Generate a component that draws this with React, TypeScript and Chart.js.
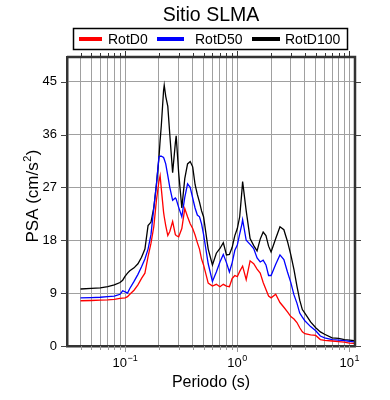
import React, { useEffect, useRef } from 'react';
import { Chart, registerables } from 'chart.js';

Chart.register(...registerables);

const FONT = '"Liberation Sans", Arial, Helvetica, sans-serif';

const chartTitle = 'Sitio SLMA';
const xTitle = 'Periodo (s)';
const yTitleMain = 'PSA (cm/s';
const yTitleSup = '2';
const yTitleEnd = ')';
const seriesNames = ['RotD0', 'RotD50', 'RotD100'];
const seriesColors = ['#ff0000', '#0000ff', '#000000'];

const periods = [
  0.04, 0.05, 0.06, 0.07, 0.08, 0.09, 0.095, 0.1, 0.105, 0.11,
  0.12, 0.13, 0.14, 0.15, 0.16, 0.17, 0.18, 0.19, 0.2, 0.205,
  0.21, 0.22, 0.223, 0.23, 0.24, 0.25, 0.265, 0.28, 0.285, 0.3,
  0.32, 0.34, 0.36, 0.38, 0.4, 0.42, 0.44, 0.46, 0.48, 0.5,
  0.55, 0.6, 0.65, 0.7, 0.75, 0.8, 0.85, 0.9, 0.95, 1.0,
  1.05, 1.1, 1.115, 1.2, 1.3, 1.4, 1.5, 1.6, 1.7, 1.8,
  1.9, 2.0, 2.2, 2.4, 2.6, 2.8, 3.0, 3.2, 3.4, 3.6,
  3.8, 4.0, 4.5, 5.0, 5.5, 6, 7, 8, 9, 10, 11,
];

const rotD0 = [
  7.7, 7.75, 7.8, 7.85, 7.95, 8.1, 8.15, 8.2, 8.4, 8.8,
  9.5, 10.4, 11.5, 12.4, 15.2, 17.5, 20.3, 24.8, 28.0, 29.0,
  26.8, 22.8, 22.0, 20.5, 18.8, 19.5, 21.2, 19.0, 18.8, 18.6,
  20.0, 23.4, 22.0, 20.8, 20.0, 18.9, 17.6, 16.5, 14.8, 13.8,
  10.7, 10.2, 10.5, 10.1, 10.5, 10.2, 10.1, 11.5, 12.0, 11.8,
  12.7, 13.4, 13.6, 11.3, 14.5, 14.0, 13.1, 12.4, 10.8, 9.6,
  8.5, 8.2, 8.8, 7.4, 6.6, 5.8, 5.0, 4.6, 4.0, 3.1,
  2.4, 2.1, 1.9, 1.8, 1.1, 0.95, 0.85, 0.75, 0.65, 0.5, 0.45,
];

const rotD50 = [
  8.2, 8.25, 8.3, 8.4, 8.5, 8.8, 9.4, 9.2, 9.0, 9.8,
  11.0, 12.2, 13.5, 14.8, 16.5, 19.0, 23.5, 27.5, 32.2, 32.3,
  32.3, 32.1, 31.8, 31.0, 29.0, 27.0, 24.8, 25.2, 25.0, 23.6,
  22.0, 25.3, 27.6, 27.0, 25.2, 23.5, 22.3, 22.0, 20.8, 19.0,
  14.0, 11.0, 12.6, 14.3, 15.6, 14.2, 12.6, 14.2, 16.3, 17.2,
  19.1, 20.8, 21.5, 18.0, 17.3, 16.6, 15.0, 14.3, 14.6, 13.8,
  12.0, 12.0, 13.9, 15.5, 14.7, 12.6, 10.8, 8.7, 7.3, 5.6,
  4.9, 4.3, 3.3, 2.6, 1.7, 1.4, 1.1, 1.0, 0.9, 0.8, 0.7,
];

const rotD100 = [
  9.7, 9.8, 9.9, 10.1, 10.4, 10.8, 11.2, 11.9, 12.4, 12.8,
  13.3, 14.0, 15.1, 16.5, 20.5, 21.1, 23.5, 27.5, 32.0, 35.0,
  37.5, 43.5, 44.4, 42.5, 40.8, 36.0, 29.5, 34.5, 35.8, 29.5,
  23.5, 28.5, 31.0, 31.4, 30.5, 27.5, 25.8, 24.5, 23.0, 22.0,
  16.5, 13.8, 15.8, 16.6, 17.6, 15.5, 15.6, 16.8, 18.8, 20.0,
  22.0, 26.5, 28.0, 23.0, 18.3, 17.1, 16.2, 18.2, 19.4, 18.8,
  17.0, 16.0, 18.3, 20.3, 19.8, 17.8, 15.5, 13.0, 10.2, 7.8,
  6.2, 5.6, 4.1, 3.1, 2.4, 2.0, 1.4, 1.3, 1.1, 1.0, 0.9,
];

const yTickValues = [0, 9, 18, 27, 36, 45];
const xGridValues = [
  0.04, 0.05, 0.06, 0.07, 0.08, 0.09,
  0.1, 0.2, 0.3, 0.4, 0.5, 0.6, 0.7, 0.8, 0.9,
  1, 2, 3, 4, 5, 6, 7, 8, 9, 10,
];
const xMajorValues = [0.1, 1, 10];
const xMajorExponents = ['−1', '0', '1'];

const seriesValues = [rotD0, rotD50, rotD100];

const decorPlugin = {
  id: 'decor',
  afterDraw(chart: any) {
    const { ctx, chartArea: a, scales } = chart;
    const xs = scales.x;
    const ys = scales.y;
    ctx.save();

    // ticks outside the frame
    ctx.lineWidth = 1;
    xGridValues.forEach((v) => {
      const px = Math.round(xs.getPixelForValue(v)) + 0.5;
      const major = xMajorValues.includes(v);
      const len = major ? 6 : 4;
      ctx.strokeStyle = '#333';
      ctx.beginPath();
      ctx.moveTo(px, a.top);
      ctx.lineTo(px, a.top - len);
      ctx.stroke();
      ctx.strokeStyle = '#999';
      ctx.beginPath();
      ctx.moveTo(px, a.bottom);
      ctx.lineTo(px, a.bottom + len);
      ctx.stroke();
    });
    ctx.strokeStyle = '#444';
    yTickValues.forEach((v) => {
      const py = Math.round(ys.getPixelForValue(v)) + 0.5;
      ctx.beginPath();
      ctx.moveTo(a.left - 6, py);
      ctx.lineTo(a.left, py);
      ctx.stroke();
      ctx.beginPath();
      ctx.moveTo(a.right, py);
      ctx.lineTo(a.right + 6, py);
      ctx.stroke();
    });

    // frame top & right
    ctx.strokeStyle = '#333';
    ctx.lineWidth = 2.5;
    ctx.beginPath();
    ctx.moveTo(a.left, a.top);
    ctx.lineTo(a.right, a.top);
    ctx.lineTo(a.right, a.bottom);
    ctx.stroke();

    // x tick labels 10^n
    ctx.fillStyle = '#000';
    ctx.textBaseline = 'alphabetic';
    ctx.textAlign = 'left';
    xMajorValues.forEach((v, i) => {
      const px = xs.getPixelForValue(v);
      ctx.font = `13px ${FONT}`;
      const w1 = ctx.measureText('10').width;
      ctx.font = `9px ${FONT}`;
      const w2 = ctx.measureText(xMajorExponents[i]).width;
      const start = px - (w1 + w2 + 0.5) / 2;
      ctx.font = `13px ${FONT}`;
      ctx.fillText('10', start, 367);
      ctx.font = `9px ${FONT}`;
      ctx.fillText(xMajorExponents[i], start + w1 + 0.5, 361);
    });

    // x axis title
    ctx.font = `16px ${FONT}`;
    ctx.textAlign = 'center';
    ctx.fillText(xTitle, (a.left + a.right) / 2, 387);

    // y axis title with superscript
    ctx.save();
    ctx.translate(38, 196);
    ctx.rotate(-Math.PI / 2);
    ctx.textAlign = 'left';
    ctx.font = `17px ${FONT}`;
    const wMain = ctx.measureText(yTitleMain).width;
    const wEnd = ctx.measureText(yTitleEnd).width;
    ctx.font = `11px ${FONT}`;
    const wSup = ctx.measureText(yTitleSup).width;
    const total = wMain + wSup + wEnd + 1;
    let cx = -total / 2;
    ctx.font = `17px ${FONT}`;
    ctx.fillText(yTitleMain, cx, 0);
    cx += wMain + 0.5;
    ctx.font = `11px ${FONT}`;
    ctx.fillText(yTitleSup, cx, -7);
    cx += wSup + 0.5;
    ctx.font = `17px ${FONT}`;
    ctx.fillText(yTitleEnd, cx, 0);
    ctx.restore();

    // chart title
    ctx.font = `19.5px ${FONT}`;
    ctx.textAlign = 'center';
    ctx.fillText(chartTitle, (a.left + a.right) / 2, 21);

    // legend box
    ctx.lineWidth = 1.5;
    ctx.strokeStyle = '#000';
    ctx.strokeRect(73.5, 28.5, 274, 21);
    const sampleStarts = [79, 157, 252];
    const sampleEnds = [102, 184, 280];
    const textStarts = [108, 195, 285];
    ctx.font = `14px ${FONT}`;
    ctx.textAlign = 'left';
    seriesNames.forEach((name, i) => {
      ctx.strokeStyle = seriesColors[i];
      ctx.lineWidth = 4;
      ctx.beginPath();
      ctx.moveTo(sampleStarts[i], 39);
      ctx.lineTo(sampleEnds[i], 39);
      ctx.stroke();
      ctx.fillStyle = '#000';
      ctx.fillText(name, textStarts[i], 44);
    });

    ctx.restore();
  },
};

export default function App() {
  const ref = useRef<HTMLCanvasElement>(null);

  useEffect(() => {
    document.body.style.margin = '0';
    const canvas = ref.current;
    if (!canvas) return;
    const chart = new Chart(canvas, {
      type: 'line',
      data: {
        datasets: seriesNames.map((name, i) => ({
          label: name,
          data: periods.map((p, j) => ({ x: p, y: seriesValues[i][j] })),
          borderColor: seriesColors[i],
          backgroundColor: seriesColors[i],
          borderWidth: 1.3,
          pointRadius: 0,
          tension: 0,
          fill: false,
        })),
      },
      options: {
        animation: false,
        responsive: false,
        devicePixelRatio: 1,
        layout: { padding: { left: 0, right: 35, top: 57, bottom: 0 } },
        plugins: {
          legend: { display: false },
          title: { display: false },
          tooltip: { enabled: false },
        },
        scales: {
          x: {
            type: 'logarithmic',
            min: 0.0303,
            max: 11.2,
            afterBuildTicks: (s: any) => {
              s.ticks = xGridValues.map((v) => ({ value: v }));
            },
            afterFit: (s: any) => {
              s.height = 54;
            },
            ticks: { display: false },
            grid: { color: '#a0a0a0', lineWidth: 1, drawTicks: false },
            border: { display: true, color: '#333', width: 2.5 },
          },
          y: {
            type: 'linear',
            min: 0,
            max: 49.2,
            afterBuildTicks: (s: any) => {
              s.ticks = yTickValues.map((v) => ({ value: v }));
            },
            afterFit: (s: any) => {
              s.width = 67;
            },
            ticks: {
              padding: 10,
              color: '#000',
              font: { family: FONT, size: 13 },
            },
            grid: { color: '#a0a0a0', lineWidth: 1, drawTicks: false },
            border: { display: true, color: '#333', width: 2.5 },
          },
        },
      },
      plugins: [decorPlugin],
    });
    return () => chart.destroy();
  }, []);

  return (
    <div style={{ width: 390, height: 400 }}>
      <canvas ref={ref} width={390} height={400} style={{ display: 'block' }} />
    </div>
  );
}
